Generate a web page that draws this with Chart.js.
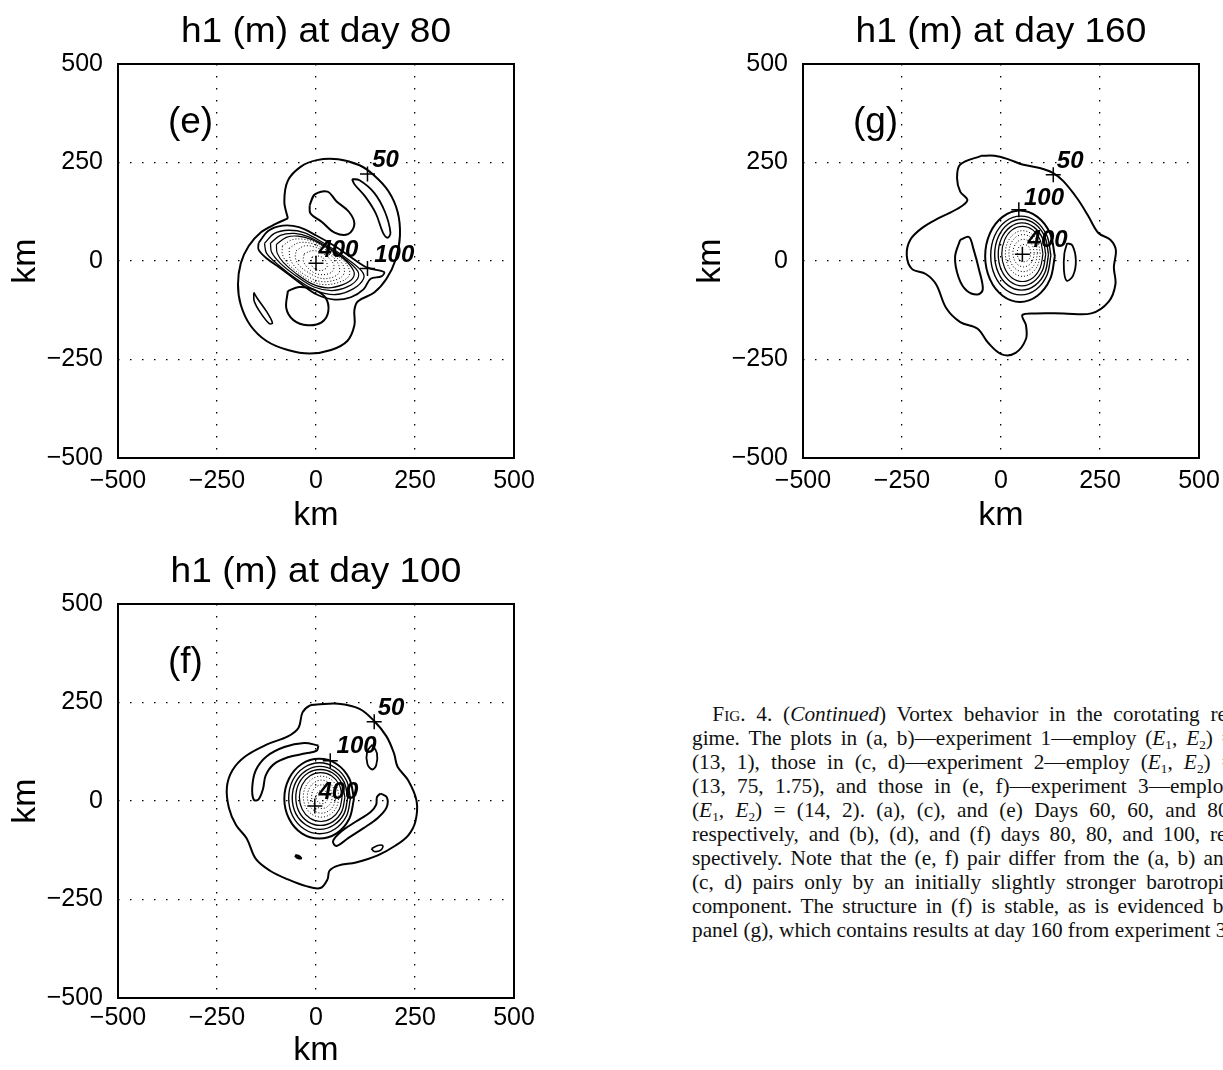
<!DOCTYPE html>
<html>
<head>
<meta charset="utf-8">
<title>h1 (m) contours</title>
<script src="https://cdn.jsdelivr.net/npm/chart.js@4.4.1/dist/chart.umd.min.js"></script>
<style>
  html, body { margin: 0; padding: 0; background: #fff; }
  body { width: 1223px; height: 1070px; overflow: hidden; position: relative; }
  canvas { position: absolute; }
  #cap { position: absolute; left: 692px; top: 702px; font: 21px "Liberation Serif", "Times New Roman", serif;
         line-height: 24px; color: #111; transform: scaleX(1.015); transform-origin: 0 0; }
  #cap .ln { white-space: nowrap; width: max-content; }
  #cap sub { font-size: 0.62em; line-height: 0; vertical-align: -0.3em; }
  .sc { font-variant: small-caps; }
</style>
</head>
<body>
<canvas id="chartE" width="560" height="540" style="left:0;top:0"></canvas>
<canvas id="chartG" width="560" height="540" style="left:685px;top:0"></canvas>
<canvas id="chartF" width="560" height="540" style="left:0;top:540px"></canvas>
<div id="cap"></div>
<script>
const tickVals = [-500, -250, 0, 250, 500];
const markText = ['50', '100', '400'];
const tagPos = [-374, 325];

// (e) day 80 — contour paths in km
const eOuter = [[-71,108],[-80,151],[-71,204],[-39,239],[2,256],[56,258],[110,243],[147,217],[183,177],[206,125],[212,64],[201,3],[178,-45],[147,-80],[106,-102],[97,-124],[97,-163],[79,-203],[38,-226],[-16,-235],[-71,-226],[-125,-203],[-166,-163],[-190,-111],[-197,-59],[-190,-6],[-170,38],[-139,73],[-102,94]];
const eUpperBlob = [[-16,142],[-3,169],[29,176],[52,151],[83,125],[97,94],[81,68],[47,72],[15,99],[-14,121]];
const eUpperArc = [[91,208],[110,205],[147,173],[174,125],[188,72],[181,59],[169,72],[151,121],[124,164],[97,195]];
const eLowerBlob = [[-71,-76],[-43,-66],[-7,-72],[24,-93],[31,-128],[15,-155],[-21,-163],[-57,-150],[-75,-120]];
const eLowerArc = [[-157,-80],[-148,-95],[-125,-128],[-110,-157],[-118,-159],[-139,-133],[-156,-102]];
const eCore100 = [[-145,46],[-120,77],[-84,90],[-43,86],[2,64],[47,38],[92,7],[130,-17],[172,-28],[165,-39],[138,-45],[120,-72],[88,-92],[47,-98],[2,-85],[-43,-54],[-89,-19],[-125,7],[-145,29]];
const eCore150 = [[-130,45],[-105,70],[-70,78],[-30,72],[20,45],[70,12],[115,-25],[120,-45],[95,-70],[50,-85],[0,-75],[-50,-45],[-95,-10],[-125,20]];
const eCore200 = [[-115,45],[-90,65],[-55,70],[-20,62],[25,38],[70,8],[105,-25],[105,-45],[80,-65],[40,-75],[-5,-66],[-50,-38],[-90,-6],[-112,22]];
const eCore250 = [[-100,42],[-75,60],[-45,63],[-10,54],[30,32],[70,5],[95,-25],[92,-45],[68,-60],[30,-68],[-10,-58],[-50,-32],[-82,-4],[-98,20]];
const eCore300 = [[-85,38],[-60,54],[-30,55],[0,46],[35,26],[70,0],[85,-25],[80,-42],[55,-55],[20,-60],[-15,-50],[-50,-26],[-75,-2],[-85,18]];
const eCore350 = [[-68,32],[-45,46],[-18,46],[10,36],[40,18],[65,-5],[72,-25],[65,-40],[42,-50],[12,-52],[-20,-40],[-50,-18],[-65,5]];
const eCore400 = [[-50,26],[-30,38],[-5,36],[20,25],[45,8],[58,-12],[58,-30],[40,-42],[12,-44],[-18,-30],[-42,-12],[-52,8]];
const eCore450 = [[-30,18],[-10,26],[12,22],[32,8],[45,-10],[42,-26],[25,-34],[0,-32],[-20,-18],[-32,0]];
const eCore500 = [[-10,10],[10,12],[25,0],[28,-15],[15,-24],[-3,-20],[-12,-8]];
const eMarks = [[130,221],[130,-19],[0,-6]];
const eLabelPos = [[142,239],[147,-2],[6,11]];

// (g) day 160
const gOuter = [[-50,267],[-103,245],[-111,210],[-103,176],[-85,154],[-111,132],[-155,110],[-199,84],[-229,54],[-238,15],[-225,-20],[-190,-33],[-164,-59],[-138,-120],[-103,-155],[-59,-172],[-33,-207],[2,-237],[37,-233],[63,-198],[63,-163],[54,-137],[89,-133],[158,-133],[228,-133],[272,-103],[289,-59],[285,-16],[290,28],[276,54],[246,71],[220,115],[193,158],[158,202],[132,223],[98,236],[54,245],[19,258],[-16,267]];
const gLeftBlob = [[-103,54],[-81,61],[-70,32],[-55,-24],[-46,-72],[-59,-85],[-87,-75],[-107,-42],[-116,10]];
const gRightBlob = [[167,45],[180,40],[189,2],[182,-37],[166,-50],[159,-24],[160,19]];
const gCore1 = [[136,12],[124,70],[92,112],[48,128],[4,112],[-28,70],[-40,12],[-28,-46],[4,-88],[48,-104],[92,-88],[124,-46]];
const gCore2 = [[126,14],[116,64],[88,101],[50,114],[12,101],[-16,64],[-26,14],[-16,-36],[12,-73],[50,-86],[88,-73],[116,-36]];
const gCore3 = [[120,16],[111,61],[86,94],[52,106],[18,94],[-7,61],[-16,16],[-7,-29],[18,-62],[52,-74],[86,-62],[111,-29]];
const gCore4 = [[113,17],[105,57],[83,86],[53,97],[23,86],[1,57],[-7,17],[1,-23],[23,-52],[53,-63],[83,-52],[105,-23]];
const gCore5 = [[106,18],[99,53],[80,79],[54,88],[28,79],[9,53],[2,18],[9,-17],[28,-43],[54,-52],[80,-43],[99,-17]];
const gCore6 = [[99,19],[93,48],[77,69],[55,77],[33,69],[17,48],[11,19],[17,-10],[33,-31],[55,-39],[77,-31],[93,-10]];
const gCore7 = [[92,20],[87,44],[74,61],[56,67],[38,61],[25,44],[20,20],[25,-4],[38,-21],[56,-27],[74,-21],[87,-4]];
const gCore8 = [[84,20],[80,38],[71,50],[57,55],[43,50],[34,38],[30,20],[34,2],[43,-10],[57,-15],[71,-10],[80,2]];
const gCore9 = [[75,20],[73,31],[67,39],[58,42],[49,39],[43,31],[41,20],[43,9],[49,1],[58,-2],[67,1],[73,9]];
const gMarks = [[132,219],[45,130],[54,17]];
const gLabelPos = [[141,236],[58,141],[67,36]];

// (f) day 100
const fOuter = [[2,245],[56,247],[110,234],[147,203],[178,164],[197,121],[206,87],[233,52],[254,0],[251,-52],[233,-87],[201,-113],[156,-138],[101,-156],[56,-164],[34,-177],[29,-199],[11,-221],[-25,-216],[-71,-199],[-116,-177],[-152,-147],[-175,-95],[-202,-61],[-220,-17],[-225,35],[-211,78],[-179,113],[-125,143],[-71,164],[-44,186],[-34,225],[-16,242]];
const fUpperArc = [[6,141],[2,128],[-25,121],[-71,111],[-107,93],[-127,65],[-134,30],[-145,4],[-157,3],[-161,35],[-152,78],[-125,113],[-80,137],[-30,147]];
const fSmallOval = [[142,143],[154,121],[152,91],[142,80],[130,93],[129,125]];
const fLowerArc = [[163,19],[179,9],[178,-17],[156,-43],[120,-69],[83,-93],[52,-114],[43,-102],[63,-78],[101,-52],[138,-28],[152,-9],[154,10]];
const fRightOval = [[140,-121],[156,-113],[169,-114],[163,-125],[147,-128]];
const fSpeck = [[-53,-138],[-44,-140],[-38,-145],[-47,-144]];
const fCore1 = [[96,6],[84,57],[52,94],[8,107],[-36,94],[-68,57],[-80,6],[-68,-45],[-36,-82],[8,-95],[52,-82],[84,-45]];
const fCore2 = [[87,7],[77,52],[48,85],[9,97],[-30,85],[-59,52],[-69,7],[-59,-38],[-30,-71],[9,-83],[48,-71],[77,-38]];
const fCore3 = [[80,8],[71,48],[45,77],[10,88],[-25,77],[-51,48],[-60,8],[-51,-32],[-25,-61],[10,-72],[45,-61],[71,-32]];
const fCore4 = [[73,9],[65,45],[42,71],[11,80],[-20,71],[-43,45],[-51,9],[-43,-27],[-20,-53],[11,-62],[42,-53],[65,-27]];
const fCore5 = [[66,10],[59,41],[39,64],[12,72],[-15,64],[-35,41],[-42,10],[-35,-21],[-15,-44],[12,-52],[39,-44],[59,-21]];
const fCore6 = [[58,11],[52,37],[36,56],[13,63],[-10,56],[-26,37],[-32,11],[-26,-15],[-10,-34],[13,-41],[36,-34],[52,-15]];
const fCore7 = [[50,11],[45,32],[32,47],[14,53],[-4,47],[-17,32],[-22,11],[-17,-10],[-4,-25],[14,-31],[32,-25],[45,-10]];
const fCore8 = [[41,11],[38,26],[28,37],[15,41],[2,37],[-8,26],[-11,11],[-8,-4],[2,-15],[15,-19],[28,-15],[38,-4]];
const fCore9 = [[30,10],[28,19],[23,25],[15,27],[8,25],[2,19],[0,10],[2,2],[8,-5],[15,-7],[23,-5],[28,2]];
const fMarks = [[147,201],[36,102],[-3,-13]];
const fLabelPos = [[156,218],[52,121],[6,4]];

const FONT = '"Liberation Sans", Arial, Helvetica, sans-serif';
const DOT = [1, 2];

function loop(pts, w, dash) {
  return {
    data: pts.concat([pts[0]]), showLine: true, pointRadius: 0, borderColor: '#000',
    borderWidth: w, borderDash: dash || [], tension: 0.35, fill: false
  };
}
function crosses(pts) {
  return { data: pts, showLine: false, pointStyle: 'cross', pointRadius: 7.5, borderColor: '#000', borderWidth: 1.5 };
}
const fmt = v => v < 0 ? '\u2212' + Math.abs(v) : String(v);

const deco = {
  id: 'deco',
  afterDatasetsDraw(chart, args, o) {
    const { ctx, chartArea: a, scales: { x, y } } = chart;
    ctx.save();
    ctx.fillStyle = '#000';
    ctx.strokeStyle = '#000';
    ctx.textAlign = 'left';
    ctx.textBaseline = 'alphabetic';
    ctx.font = 'italic bold 24px ' + FONT;
    o.labelPos.forEach((p, i) => ctx.fillText(markText[i], x.getPixelForValue(p[0]), y.getPixelForValue(p[1])));
    ctx.font = '37px ' + FONT;
    ctx.fillText(o.tag, x.getPixelForValue(tagPos[0]), y.getPixelForValue(tagPos[1]));
    ctx.lineWidth = 2;
    ctx.strokeRect(a.left, a.top, a.right - a.left, a.bottom - a.top);
    // title, slightly widened like the scanned original
    ctx.font = '35px ' + FONT;
    ctx.textAlign = 'center';
    ctx.translate((a.left + a.right) / 2, 42);
    ctx.scale(1.06, 1);
    ctx.fillText(o.title, 0, 0);
    ctx.restore();
  }
};

function axis(isX, tickPad, titlePad) {
  return {
    type: 'linear', min: -500, max: 500,
    afterBuildTicks: s => { s.ticks = tickVals.map(v => ({ value: v })); },
    afterFit: s => { if (isX) s.height = 82; else s.width = 118; },
    ticks: { color: '#000', font: { family: FONT, size: 25 }, padding: tickPad, maxRotation: 0, autoSkip: false, callback: v => fmt(v) },
    grid: { color: '#000', lineWidth: 1.3, drawTicks: false },
    border: { display: false, dash: [1.5, 10.5] },
    title: {
      display: true, text: 'km', color: '#000', font: { family: FONT, size: 34, lineHeight: 1 },
      padding: isX ? { top: 0, bottom: titlePad } : { top: titlePad, bottom: 0 }
    }
  };
}

function makePanel(id, title, tag, datasets, labelPos, xTickPad, kmPad) {
  return new Chart(document.getElementById(id), {
    type: 'scatter',
    data: { datasets },
    options: {
      responsive: false, animation: false, events: [],
      layout: { padding: { top: 64, right: 46, left: 0, bottom: 0 } },
      scales: { x: axis(true, xTickPad, kmPad), y: axis(false, 15, 9) },
      plugins: { legend: { display: false }, tooltip: { enabled: false }, deco: { title, tag, labelPos } }
    },
    plugins: [deco]
  });
}

makePanel('chartE', 'h1 (m) at day 80', '(e)', [
  loop(eOuter, 2), loop(eUpperBlob, 2), loop(eUpperArc, 1.8), loop(eLowerBlob, 2), loop(eLowerArc, 1.6),
  loop(eCore100, 1.8), loop(eCore150, 1.3), loop(eCore200, 1.3), loop(eCore250, 1.2),
  loop(eCore300, 1, DOT), loop(eCore350, 1, DOT), loop(eCore400, 1, DOT), loop(eCore450, 1, DOT), loop(eCore500, 1, DOT),
  crosses(eMarks)
], eLabelPos, 8, 7);

makePanel('chartG', 'h1 (m) at day 160', '(g)', [
  loop(gOuter, 2), loop(gLeftBlob, 2), loop(gRightBlob, 1.8),
  loop(gCore1, 2), loop(gCore2, 1.4), loop(gCore3, 1.4), loop(gCore4, 1.3), loop(gCore5, 1.2),
  loop(gCore6, 1, DOT), loop(gCore7, 1, DOT), loop(gCore8, 1, DOT), loop(gCore9, 1, DOT),
  crosses(gMarks)
], gLabelPos, 8, 7);

makePanel('chartF', 'h1 (m) at day 100', '(f)', [
  loop(fOuter, 2), loop(fUpperArc, 2), loop(fSmallOval, 1.8), loop(fLowerArc, 2), loop(fRightOval, 1.6), loop(fSpeck, 2.5),
  loop(fCore1, 2), loop(fCore2, 1.4), loop(fCore3, 1.4), loop(fCore4, 1.3), loop(fCore5, 1.2),
  loop(fCore6, 1, DOT), loop(fCore7, 1, DOT), loop(fCore8, 1, DOT), loop(fCore9, 1, DOT),
  crosses(fMarks)
], fLabelPos, 5, 12);

// caption, justified line by line
const E12 = '(<i>E</i><sub>1</sub>, <i>E</i><sub>2</sub>)';
const capLines = [
  '<span class="sc">Fig</span>. 4. (<i>Continued</i>) Vortex behavior in the corotating re-',
  'gime. The plots in (a, b)—experiment 1—employ ' + E12 + ' =',
  '(13, 1), those in (c, d)—experiment 2—employ ' + E12 + ' =',
  '(13, 75, 1.75), and those in (e, f)—experiment 3—employ',
  E12 + ' = (14, 2). (a), (c), and (e) Days 60, 60, and 80,',
  'respectively, and (b), (d), and (f) days 80, 80, and 100, re-',
  'spectively. Note that the (e, f) pair differ from the (a, b) and',
  '(c, d) pairs only by an initially slightly stronger barotropic',
  'component. The structure in (f) is stable, as is evidenced by',
  'panel (g), which contains results at day 160 from experiment 3.'
];
const capWidth = 534;
const capIndent = 20;
const cap = document.getElementById('cap');
capLines.forEach((html, i) => {
  const ln = document.createElement('div');
  ln.className = 'ln';
  ln.innerHTML = html;
  if (i === 0) ln.style.paddingLeft = capIndent + 'px';
  cap.appendChild(ln);
  if (i < capLines.length - 1) {
    const target = capWidth - (i === 0 ? capIndent : 0);
    const natural = ln.offsetWidth - (i === 0 ? capIndent : 0);
    const gaps = (ln.textContent.match(/ /g) || []).length;
    if (gaps) ln.style.wordSpacing = ((target - natural) / gaps) + 'px';
  }
});
</script>
</body>
</html>
